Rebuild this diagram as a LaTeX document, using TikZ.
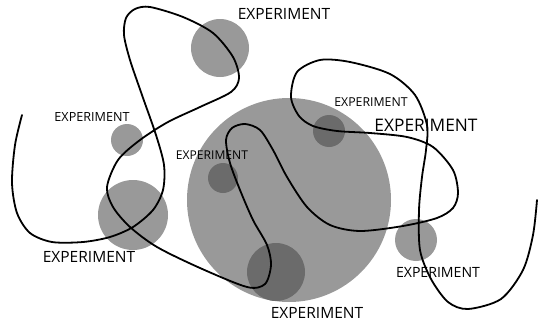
\documentclass[tikz,border=0pt]{standalone}
\usepackage{fontspec}
\setmainfont{Open Sans}
\usepackage{tikz}
\definecolor{disc}{gray}{0.6}
\definecolor{darkdisc}{gray}{0.42}

\begin{document}
\begin{tikzpicture}[x=1pt,y=-1pt,every node/.style={outer sep=0,inner sep=0},
   tag/.style={font=\fontsize{#1}{#1}\selectfont}]
   \useasboundingbox (0,0) rectangle (538,324);

   \fill[disc] (220,48) circle (29);
   \fill[disc] (127,140) circle (16);
   \fill[disc] (133,215) circle (35);
   \fill[disc] (289,200) circle (102);
   \fill[disc] (416,240) circle (21);

   \fill[darkdisc] (223,178) circle (15);
   \fill[darkdisc] (329,131) circle (16);
   \fill[darkdisc] (276,272) circle (29);

   \draw[line width=1.8pt,line cap=round] plot[smooth] coordinates {
   (22,115) (15,145) (12,183) (17,213) (30,233) (52,242) (83,242) (110,237)
   (133,227) (153,210) (163,190) (164,165) (156,135) (142,95) (130,60)
   (124,35) (126,18) (135,9) (150,7) (183,17) (213,33) (233,57) (239,78)
   (231,92) (200,107) (168,122) (140,140) (118,160) (107,187) (113,207)
   (130,227) (157,247) (200,268) (247,287) (265,284) (271,265) (267,245)
   (253,220) (240,190) (230,163) (226,140) (232,128) (245,124) (260,130)
   (273,150) (287,177) (307,207) (330,225) (360,231) (403,226) (437,218)
   (453,208) (458,193) (453,170) (433,147) (407,137) (370,133) (337,131)
   (313,126) (299,116) (291,97) (297,72) (320,60) (350,62) (390,74)
   (415,95) (427,125) (426,150) (422,177) (419,210) (420,250) (431,279)
   (448,302) (468,309) (501,299) (523,270) (533,235) (537,200)};

   \node[tag=15.5] (top) at (284,14) {EXPERIMENT};
   \node[tag=12.6] (left) at (92,117) {EXPERIMENT};
   \node[tag=12.1] (inner) at (212,155) {EXPERIMENT};
   \node[tag=12.3] (upper) at (371,102) {EXPERIMENT};
   \node[tag=17.3] (big) at (426,125) {EXPERIMENT};
   \node[tag=15.5] (lower) at (89,257) {EXPERIMENT};
   \node[tag=15.5] (bottom) at (317,313) {EXPERIMENT};
   \node[tag=14.1] (right) at (438,272) {EXPERIMENT};

\end{tikzpicture}
\end{document}
